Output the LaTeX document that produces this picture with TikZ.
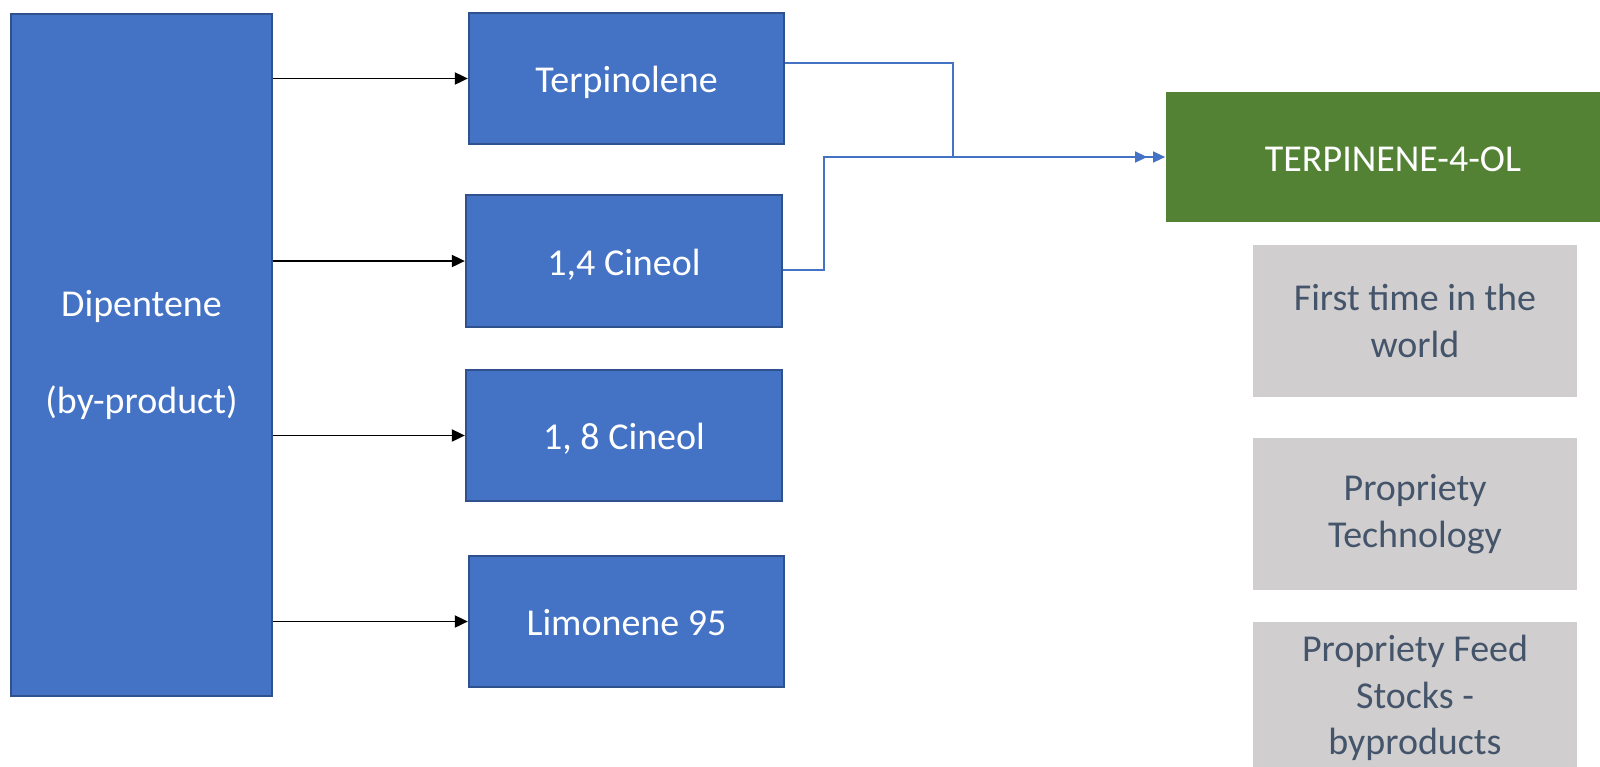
\documentclass[tikz,border=0pt]{standalone}
\usepackage{fontspec}
\setmainfont{Carlito}
\usetikzlibrary{arrows.meta}
\definecolor{bfill}{HTML}{4472C4}
\definecolor{bdraw}{HTML}{2F528F}
\definecolor{gfill}{HTML}{548235}
\definecolor{greyfill}{HTML}{D0CECE}
\definecolor{greytext}{HTML}{44546A}
\tikzset{
  bluebox/.style={fill=bfill, draw=bdraw, line width=0.6pt, text=white, align=center, inner sep=0pt,
    font=\fontsize{10.8}{13.4}\selectfont},
  oneline/.style={text height=10.5pt, text depth=2.5pt},
  greenbox/.style={fill=gfill, text=white, align=center, inner sep=0pt, font=\fontsize{10.8}{13.4}\selectfont},
  greybox/.style={fill=greyfill, text=greytext, align=center, inner sep=0pt, font=\fontsize{10.8}{13.2}\selectfont},
  blackarrow/.style={line width=0.55pt, -{Triangle[length=0.13cm,width=0.12cm]}},
  bluearrow/.style={draw=bfill, line width=0.35pt, -{Triangle[length=0.12cm,width=0.11cm]}, color=bfill}
}
\begin{document}
\begin{tikzpicture}[x=0.01cm,y=-0.01cm]
\useasboundingbox (0,0) rectangle (1600,766);
\node[bluebox, minimum width=2.61cm, minimum height=6.81cm] (dip) at (141.5,355) {Dipentene\\[14pt](by-product)};
\node[bluebox, oneline, minimum width=3.15cm, minimum height=1.31cm] (terp) at (626.5,78.5) {Terpinolene};
\node[bluebox, oneline, minimum width=3.16cm, minimum height=1.32cm] (cin14) at (624,261) {1,4 Cineol};
\node[bluebox, oneline, minimum width=3.16cm, minimum height=1.31cm] (cin18) at (624,435.5) {1, 8 Cineol};
\node[bluebox, oneline, minimum width=3.15cm, minimum height=1.31cm] (lim) at (626.5,621.5) {Limonene 95};
\node[greenbox, oneline, minimum width=4.54cm, minimum height=1.30cm] (terpol) at (1393,157) {TERPINENE-4-OL};
\node[greybox, minimum width=3.24cm, minimum height=1.52cm] (g1) at (1415,321) {First time in the\\world};
\node[greybox, minimum width=3.24cm, minimum height=1.52cm] (g2) at (1415,514) {Propriety\\Technology};
\node[greybox, minimum width=3.24cm, minimum height=1.52cm] (g3) at (1415,698) {Propriety Feed\\Stocks -\\byproducts};
\draw[blackarrow] (dip.east |- terp) -- (terp.west);
\draw[blackarrow] (dip.east |- cin14) -- (cin14.west);
\draw[blackarrow] (dip.east |- cin18) -- (cin18.west);
\draw[blackarrow] (dip.east |- lim) -- (lim.west);
\draw[bluearrow] ([yshift=0.155cm]terp.east) -| (953,157) -- (terpol.west);
\draw[bluearrow, shorten >=0.18cm] ([yshift=-0.09cm]cin14.east) -| (824,157) -- (terpol.west);
\end{tikzpicture}
\end{document}
